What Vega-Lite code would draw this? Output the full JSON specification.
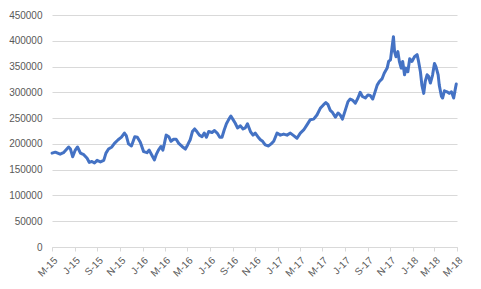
{
  "$schema": "https://vega.github.io/schema/vega-lite/v6.json",
  "width": 405,
  "height": 232,
  "autosize": {"type": "none"},
  "padding": {"left": 52, "top": 15, "right": 24, "bottom": 42},
  "background": "white",
  "config": {
    "view": {"stroke": null},
    "font": "Liberation Sans"
  },
  "data": {
    "values": [
      {"date": "2015-05-01", "value": 182000},
      {"date": "2015-05-10", "value": 184000},
      {"date": "2015-05-23", "value": 180000},
      {"date": "2015-06-01", "value": 183000},
      {"date": "2015-06-15", "value": 194000},
      {"date": "2015-06-20", "value": 190000},
      {"date": "2015-06-26", "value": 175000},
      {"date": "2015-07-03", "value": 188000},
      {"date": "2015-07-09", "value": 194000},
      {"date": "2015-07-17", "value": 182000},
      {"date": "2015-07-26", "value": 179000},
      {"date": "2015-08-04", "value": 172000},
      {"date": "2015-08-10", "value": 164000},
      {"date": "2015-08-17", "value": 166000},
      {"date": "2015-08-24", "value": 163000},
      {"date": "2015-08-31", "value": 168000},
      {"date": "2015-09-09", "value": 165000},
      {"date": "2015-09-18", "value": 168000},
      {"date": "2015-09-24", "value": 182000},
      {"date": "2015-10-01", "value": 190000},
      {"date": "2015-10-10", "value": 194000},
      {"date": "2015-10-17", "value": 201000},
      {"date": "2015-10-27", "value": 208000},
      {"date": "2015-11-05", "value": 213000},
      {"date": "2015-11-13", "value": 221000},
      {"date": "2015-11-18", "value": 216000},
      {"date": "2015-11-24", "value": 200000},
      {"date": "2015-12-02", "value": 196000},
      {"date": "2015-12-11", "value": 214000},
      {"date": "2015-12-18", "value": 213000},
      {"date": "2015-12-26", "value": 203000},
      {"date": "2016-01-04", "value": 185000},
      {"date": "2016-01-13", "value": 183000},
      {"date": "2016-01-19", "value": 188000},
      {"date": "2016-01-27", "value": 177000},
      {"date": "2016-02-02", "value": 169000},
      {"date": "2016-02-07", "value": 179000},
      {"date": "2016-02-13", "value": 188000},
      {"date": "2016-02-20", "value": 195000},
      {"date": "2016-02-25", "value": 188000},
      {"date": "2016-02-29", "value": 200000},
      {"date": "2016-03-05", "value": 217000},
      {"date": "2016-03-12", "value": 214000},
      {"date": "2016-03-18", "value": 205000},
      {"date": "2016-03-25", "value": 209000},
      {"date": "2016-04-01", "value": 209000},
      {"date": "2016-04-08", "value": 201000},
      {"date": "2016-04-17", "value": 195000},
      {"date": "2016-04-26", "value": 190000},
      {"date": "2016-05-02", "value": 198000},
      {"date": "2016-05-09", "value": 208000},
      {"date": "2016-05-15", "value": 224000},
      {"date": "2016-05-21", "value": 229000},
      {"date": "2016-05-27", "value": 224000},
      {"date": "2016-06-03", "value": 217000},
      {"date": "2016-06-10", "value": 214000},
      {"date": "2016-06-16", "value": 221000},
      {"date": "2016-06-22", "value": 213000},
      {"date": "2016-06-28", "value": 224000},
      {"date": "2016-07-07", "value": 222000},
      {"date": "2016-07-13", "value": 226000},
      {"date": "2016-07-21", "value": 221000},
      {"date": "2016-07-28", "value": 213000},
      {"date": "2016-08-03", "value": 213000},
      {"date": "2016-08-09", "value": 227000},
      {"date": "2016-08-15", "value": 239000},
      {"date": "2016-08-21", "value": 247000},
      {"date": "2016-08-27", "value": 254000},
      {"date": "2016-09-02", "value": 247000},
      {"date": "2016-09-08", "value": 240000},
      {"date": "2016-09-14", "value": 231000},
      {"date": "2016-09-22", "value": 235000},
      {"date": "2016-09-29", "value": 229000},
      {"date": "2016-10-05", "value": 231000},
      {"date": "2016-10-11", "value": 239000},
      {"date": "2016-10-19", "value": 224000},
      {"date": "2016-10-26", "value": 217000},
      {"date": "2016-11-01", "value": 221000},
      {"date": "2016-11-08", "value": 214000},
      {"date": "2016-11-15", "value": 208000},
      {"date": "2016-11-21", "value": 205000},
      {"date": "2016-11-28", "value": 198000},
      {"date": "2016-12-07", "value": 196000},
      {"date": "2016-12-14", "value": 200000},
      {"date": "2016-12-21", "value": 205000},
      {"date": "2016-12-30", "value": 221000},
      {"date": "2017-01-08", "value": 217000},
      {"date": "2017-01-17", "value": 219000},
      {"date": "2017-01-26", "value": 217000},
      {"date": "2017-02-04", "value": 221000},
      {"date": "2017-02-13", "value": 216000},
      {"date": "2017-02-22", "value": 211000},
      {"date": "2017-03-03", "value": 221000},
      {"date": "2017-03-12", "value": 227000},
      {"date": "2017-03-21", "value": 237000},
      {"date": "2017-03-30", "value": 247000},
      {"date": "2017-04-08", "value": 248000},
      {"date": "2017-04-17", "value": 256000},
      {"date": "2017-04-26", "value": 269000},
      {"date": "2017-05-05", "value": 276000},
      {"date": "2017-05-11", "value": 280000},
      {"date": "2017-05-17", "value": 276000},
      {"date": "2017-05-23", "value": 265000},
      {"date": "2017-05-29", "value": 261000},
      {"date": "2017-06-06", "value": 252000},
      {"date": "2017-06-13", "value": 260000},
      {"date": "2017-06-19", "value": 256000},
      {"date": "2017-06-25", "value": 248000},
      {"date": "2017-07-03", "value": 266000},
      {"date": "2017-07-10", "value": 282000},
      {"date": "2017-07-16", "value": 287000},
      {"date": "2017-07-22", "value": 285000},
      {"date": "2017-07-30", "value": 279000},
      {"date": "2017-08-06", "value": 289000},
      {"date": "2017-08-12", "value": 300000},
      {"date": "2017-08-18", "value": 292000},
      {"date": "2017-08-26", "value": 289000},
      {"date": "2017-09-02", "value": 295000},
      {"date": "2017-09-08", "value": 294000},
      {"date": "2017-09-15", "value": 287000},
      {"date": "2017-09-20", "value": 298000},
      {"date": "2017-09-27", "value": 314000},
      {"date": "2017-10-03", "value": 321000},
      {"date": "2017-10-10", "value": 326000},
      {"date": "2017-10-16", "value": 337000},
      {"date": "2017-10-24", "value": 347000},
      {"date": "2017-10-28", "value": 360000},
      {"date": "2017-11-02", "value": 363000},
      {"date": "2017-11-06", "value": 386000},
      {"date": "2017-11-10", "value": 408000},
      {"date": "2017-11-13", "value": 379000},
      {"date": "2017-11-17", "value": 369000},
      {"date": "2017-11-22", "value": 379000},
      {"date": "2017-11-26", "value": 360000},
      {"date": "2017-12-01", "value": 347000},
      {"date": "2017-12-05", "value": 360000},
      {"date": "2017-12-10", "value": 334000},
      {"date": "2017-12-14", "value": 347000},
      {"date": "2017-12-19", "value": 340000},
      {"date": "2017-12-24", "value": 365000},
      {"date": "2017-12-30", "value": 360000},
      {"date": "2018-01-06", "value": 369000},
      {"date": "2018-01-13", "value": 373000},
      {"date": "2018-01-17", "value": 360000},
      {"date": "2018-01-22", "value": 340000},
      {"date": "2018-01-26", "value": 314000},
      {"date": "2018-01-31", "value": 298000},
      {"date": "2018-02-04", "value": 321000},
      {"date": "2018-02-09", "value": 334000},
      {"date": "2018-02-13", "value": 331000},
      {"date": "2018-02-18", "value": 318000},
      {"date": "2018-02-24", "value": 334000},
      {"date": "2018-03-01", "value": 356000},
      {"date": "2018-03-05", "value": 350000},
      {"date": "2018-03-11", "value": 334000},
      {"date": "2018-03-14", "value": 314000},
      {"date": "2018-03-20", "value": 292000},
      {"date": "2018-03-23", "value": 289000},
      {"date": "2018-03-28", "value": 303000},
      {"date": "2018-04-04", "value": 301000},
      {"date": "2018-04-10", "value": 298000},
      {"date": "2018-04-16", "value": 301000},
      {"date": "2018-04-22", "value": 289000},
      {"date": "2018-04-26", "value": 305000},
      {"date": "2018-04-29", "value": 316000}
    ]
  },
  "mark": {"type": "line", "color": "#4472C4", "strokeWidth": 3, "strokeJoin": "round", "strokeCap": "round"},
  "encoding": {
    "x": {
      "field": "date",
      "type": "temporal",
      "scale": {"type": "utc", "domain": ["2015-05-01", "2018-05-01"]},
      "axis": {
        "title": null,
        "grid": false,
        "tickCount": {"interval": "month", "step": 2},
        "labelExpr": "substring(utcFormat(datum.value, '%b'), 0, 1) + '-' + utcFormat(datum.value, '%y')",
        "labelAngle": -45,
        "labelFontSize": 10,
        "labelColor": "#595959",
        "labelPadding": 4,
        "domainColor": "#d9d9d9",
        "tickColor": "#d9d9d9",
        "tickSize": 4,
        "labelOverlap": false,
        "labelFlush": false
      }
    },
    "y": {
      "field": "value",
      "type": "quantitative",
      "scale": {"domain": [0, 450000], "nice": false},
      "axis": {
        "title": null,
        "values": [0, 50000, 100000, 150000, 200000, 250000, 300000, 350000, 400000, 450000],
        "format": "d",
        "domain": false,
        "ticks": false,
        "labelPadding": 10,
        "labelFontSize": 10,
        "labelColor": "#595959",
        "gridColor": "#d9d9d9",
        "gridWidth": 1
      }
    }
  }
}
